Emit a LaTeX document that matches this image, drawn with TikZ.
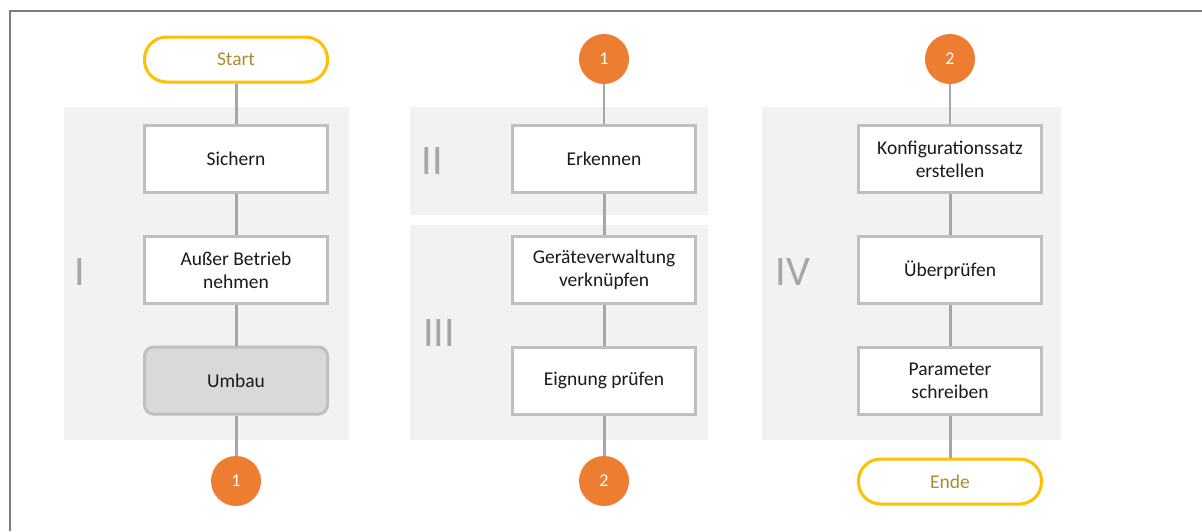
\documentclass[tikz,border=0pt]{standalone}
\usepackage{fontspec}
\setmainfont{Carlito}
\definecolor{panel}{HTML}{F2F2F2}
\definecolor{boxline}{HTML}{BFBFBF}
\definecolor{conn}{HTML}{A6A6A6}
\definecolor{termline}{HTML}{FFC000}
\definecolor{termtext}{HTML}{AD8B2E}
\definecolor{orng}{HTML}{ED7D31}
\definecolor{umb}{HTML}{D9D9D9}
\definecolor{roman}{HTML}{A6A6A6}
\definecolor{frame}{HTML}{7F7F7F}
\definecolor{txt}{HTML}{1A1A1A}
\tikzset{
  x=1pt, y=-1pt,
  stepbox/.style={draw=boxline, line width=3pt, fill=white, minimum width=183pt, minimum height=67pt,
    align=center, text=txt, font=\fontsize{19.5}{23}\selectfont, inner sep=2pt},
  umbox/.style={stepbox, fill=umb, rounded corners=9pt},
  term/.style={draw=termline, line width=3pt, fill=white, minimum width=183pt, minimum height=45pt,
    rounded corners=22pt, text=termtext, font=\fontsize{19.5}{23}\selectfont},
  conncircle/.style={circle, fill=orng, minimum size=50pt, inner sep=0pt, text=white,
    font=\fontsize{18}{20}\selectfont},
  link/.style={draw=conn, line width=3pt},
  thinlink/.style={draw=conn, line width=1.2pt},
  midlink/.style={draw=conn, line width=2pt},
  romanlbl/.style={text=roman, font=\fontsize{42}{46}\selectfont, inner sep=0pt},
}
\begin{document}
\begin{tikzpicture}
\useasboundingbox (0,0) rectangle (1202,531);
\fill[white] (0,0) rectangle (1202,531);
% frame lines
\draw[frame, line width=1.5pt] (10,531) -- (10,11) -- (1202,11);
% panels
\fill[panel] (64,107) rectangle (349,440);
\fill[panel] (410,107) rectangle (708,215);
\fill[panel] (410,225) rectangle (708,440);
\fill[panel] (762,107) rectangle (1061,440);
% roman labels
\node[romanlbl] (rI) at (80,272) {I};
\node[romanlbl] (rII) at (432,161) {II};
\node[romanlbl] (rIII) at (439,333) {III};
\node[romanlbl] (rIV) at (793,272) {IV};
% column 1
\node[term] (start) at (236,59.5) {Start};
\node[stepbox] (sichern) at (236,159) {Sichern};
\node[stepbox] (ausser) at (236,270) {Außer Betrieb\\nehmen};
\node[umbox] (umbau) at (236,380.5) {Umbau};
\node[conncircle] (c1a) at (236,481) {1};
% column 2
\node[conncircle] (c1b) at (604,59) {1};
\node[stepbox] (erkennen) at (604,159) {Erkennen};
\node[stepbox] (geraete) at (604,270) {Geräteverwaltung\\verknüpfen};
\node[stepbox] (eignung) at (604,380.5) {Eignung prüfen};
\node[conncircle] (c2a) at (604,481) {2};
% column 3
\node[conncircle] (c2b) at (950,59) {2};
\node[stepbox] (konf) at (950,159) {Konfigurationssatz\\erstellen};
\node[stepbox] (pruef) at (950,270) {Überprüfen};
\node[stepbox] (param) at (950,380.5) {Parameter\\schreiben};
\node[term] (ende) at (950,481.5) {Ende};
% connectors
\draw[link] (start.south) -- (sichern.north);
\draw[link] (sichern.south) -- (ausser.north);
\draw[link] (ausser.south) -- (umbau.north);
\draw[link] (umbau.south) -- (c1a.north);
\draw[midlink] (c1b.south) -- (erkennen.north);
\draw[link] (erkennen.south) -- (geraete.north);
\draw[link] (geraete.south) -- (eignung.north);
\draw[link] (eignung.south) -- (c2a.north);
\draw[thinlink] (c2b.south) -- (konf.north);
\draw[link] (konf.south) -- (pruef.north);
\draw[link] (pruef.south) -- (param.north);
\draw[link] (param.south) -- (ende.north);
\end{tikzpicture}
\end{document}
